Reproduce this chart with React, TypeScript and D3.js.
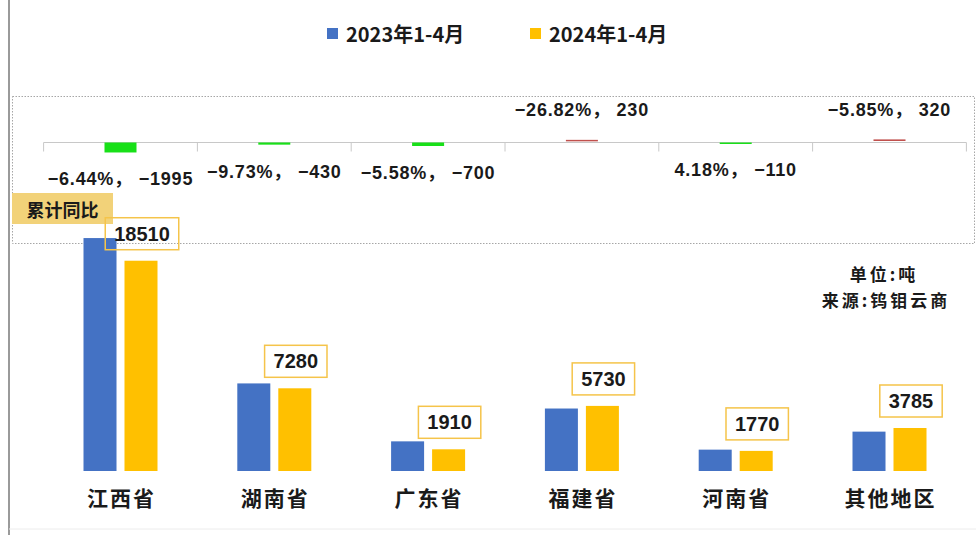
import React from 'react';
import * as d3 from 'd3';

const categories = ['江西省', '湖南省', '广东省', '福建省', '河南省', '其他地区'];
const seriesNames = ['2023年1-4月', '2024年1-4月'];
const values2023 = [20505, 7710, 2610, 5500, 1880, 3465];
const values2024 = [18510, 7280, 1910, 5730, 1770, 3785];
const changeAbs = [-1995, -430, -700, 230, -110, 320];
const changePct = ['-6.44%', '-9.73%', '-5.58%', '-26.82%', '4.18%', '-5.85%'];

const W = 976;
const H = 535;
const BLUE = '#4472C4';
const GOLD = '#FFC000';
const GREEN = '#18E018';
const RED = '#C0504D';
const CJK = '"Noto Sans CJK SC", "Liberation Sans", sans-serif';
const NUM = '"Liberation Sans", Arial, "Noto Sans CJK SC", sans-serif';

export default function App() {
  const x = d3.scaleBand<string>().domain(categories).range([43.6, 966.4]).paddingInner(0).paddingOuter(0);
  const bw = x.bandwidth();
  const inner = d3
    .scaleBand<string>()
    .domain(['2023', '2024'])
    .range([bw / 2 - 37, bw / 2 + 37])
    .paddingInner(0.195)
    .paddingOuter(0);
  const y = d3.scaleLinear().domain([0, 25000]).range([471, 187]);
  const yc = d3.scaleLinear().domain([-4000, 4000]).range([162.5, 122.5]);
  const axisY = yc(0);

  const series = [
    { key: '2023', values: values2023, color: BLUE },
    { key: '2024', values: values2024, color: GOLD },
  ];

  return (
    <svg
      width={W}
      height={H}
      viewBox={`0 0 ${W} ${H}`}
      style={{ position: 'absolute', left: 0, top: 0, display: 'block', background: '#fff' }}
    >
      {/* outer frame */}
      <line x1={9} x2={9} y1={0} y2={H} stroke="#9a9a9a" strokeWidth={2} />
      <line x1={9} x2={W} y1={529} y2={529} stroke="#ececec" strokeWidth={1} />

      {/* legend */}
      {seriesNames.map((s, i) => {
        const lx = [327, 530][i];
        return (
          <g key={s}>
            <rect x={lx} y={28} width={11} height={11} fill={i === 0 ? BLUE : GOLD} />
            <text x={lx + 19} y={33} dominantBaseline="central" fontFamily={CJK} fontWeight={700} fontSize={20} fill="#1a1a1a">
              {s}
            </text>
          </g>
        );
      })}

      {/* change panel */}
      <rect x={12.5} y={96.5} width={962} height={147} fill="none" stroke="#a6a6a6" strokeWidth={1} strokeDasharray="1.5 1.5" />
      <line x1={x.range()[0]} x2={x.range()[1]} y1={axisY} y2={axisY} stroke="#c8c8c8" strokeWidth={1} />
      {[...categories.map((c) => x(c) as number), x.range()[1]].map((tx, i) => (
        <line key={i} x1={tx} x2={tx} y1={axisY} y2={axisY + 9} stroke="#c8c8c8" strokeWidth={1} />
      ))}
      {categories.map((c, i) => {
        const cx = (x(c) as number) + bw / 2;
        const v = changeAbs[i];
        const top = Math.min(yc(v), yc(0));
        const h = Math.max(1.5, Math.abs(yc(v) - yc(0)));
        const color = v < 0 ? GREEN : RED;
        const ly = v < 0 ? yc(v) + 27 : yc(v) - 31;
        return (
          <g key={c}>
            <rect x={cx - 16} y={v < 0 ? top : top - 1.5} width={32} height={h} fill={color} />
            <text
              x={cx}
              y={ly}
              textAnchor="middle"
              dominantBaseline="central"
              fontFamily={NUM}
              fontWeight={700}
              fontSize={18}
              letterSpacing={0.8}
              fill="#1a1a1a"
            >
              {`${changePct[i].replace('-', '−')}， ${String(v).replace('-', '−')}`}
            </text>
          </g>
        );
      })}

      {/* 累计同比 tag */}
      <rect x={12} y={193} width={101} height={31} fill="#F2D279" />
      <text x={62.5} y={209} textAnchor="middle" dominantBaseline="central" fontFamily={CJK} fontWeight={700} fontSize={18} fill="#1a1a1a">
        累计同比
      </text>

      {/* bars */}
      {categories.map((c) => (
        <g key={c} transform={`translate(${x(c)},0)`}>
          {series.map((s) => {
            const v = s.values[categories.indexOf(c)];
            return (
              <rect
                key={s.key}
                x={inner(s.key)}
                y={y(v)}
                width={inner.bandwidth()}
                height={y(0) - y(v)}
                fill={s.color}
              />
            );
          })}
        </g>
      ))}

      {/* value labels for 2024 */}
      {categories.map((c, i) => {
        const v = values2024[i];
        const cx = (x(c) as number) + (inner('2024') as number) + inner.bandwidth() / 2 + 1;
        const label = String(v);
        const bwBox = label.length * 11.1 + 18;
        const bottom = y(v) - 11;
        return (
          <g key={c}>
            <rect x={cx - bwBox / 2} y={bottom - 32} width={bwBox} height={32} fill="none" stroke="#F5C44A" strokeWidth={1.5} />
            <text x={cx} y={bottom - 16} textAnchor="middle" dominantBaseline="central" fontFamily={NUM} fontWeight={700} fontSize={20} fill="#1a1a1a">
              {label}
            </text>
          </g>
        );
      })}

      {/* category labels */}
      {categories.map((c) => (
        <text
          key={c}
          x={(x(c) as number) + bw / 2 + 1}
          y={497}
          textAnchor="middle"
          dominantBaseline="central"
          fontFamily={CJK}
          fontWeight={700}
          fontSize={21}
          letterSpacing={2}
          fill="#1a1a1a"
        >
          {c}
        </text>
      ))}

      {/* unit / source */}
      <text x={884} y={273} textAnchor="middle" dominantBaseline="central" fontFamily={CJK} fontWeight={700} fontSize={17} letterSpacing={3} fill="#1a1a1a">
        单位:吨
      </text>
      <text x={886} y={299} textAnchor="middle" dominantBaseline="central" fontFamily={CJK} fontWeight={700} fontSize={17} letterSpacing={3} fill="#1a1a1a">
        来源:钨钼云商
      </text>
    </svg>
  );
}
